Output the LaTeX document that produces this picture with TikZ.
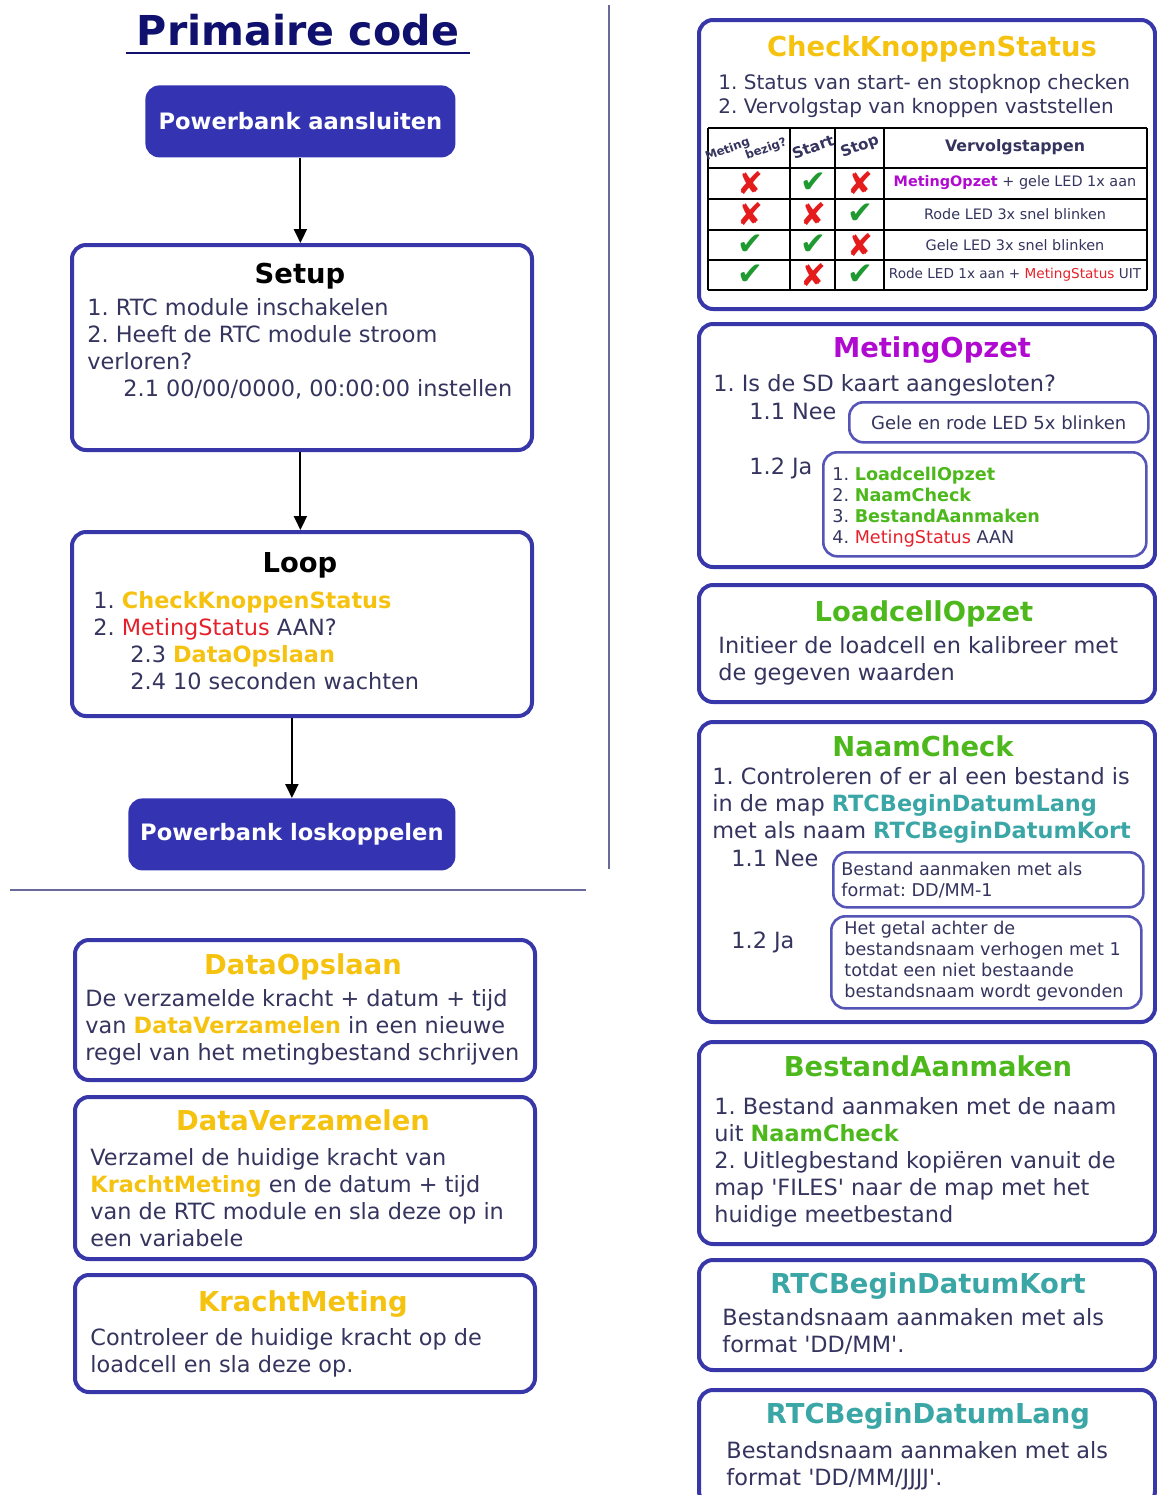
\documentclass[tikz,border=0pt]{standalone}
\usepackage{fontspec}
\setmainfont{DejaVu Sans}
\usetikzlibrary{arrows.meta}
\definecolor{randblauw}{HTML}{3737AA}
\definecolor{vulblauw}{HTML}{3434B2}
\definecolor{tekst}{HTML}{34345E}
\definecolor{kopblauw}{HTML}{10106E}
\definecolor{goud}{HTML}{F5C20F}
\definecolor{rood}{HTML}{E5202A}
\definecolor{paars}{HTML}{B00AD0}
\definecolor{groen}{HTML}{4CB81C}
\definecolor{blauwgroen}{HTML}{3BA6A6}
\definecolor{scheiding}{HTML}{6A6A98}
\definecolor{vinkgroen}{HTML}{1E9A30}
\definecolor{kruisrood}{HTML}{E41C1C}
\newcommand{\fgoud}[1]{\textcolor{goud}{\textbf{#1}}}
\newcommand{\fgroen}[1]{\textcolor{groen}{\textbf{#1}}}
\newcommand{\fpaars}[1]{\textcolor{paars}{\textbf{#1}}}
\newcommand{\fteal}[1]{\textcolor{blauwgroen}{\textbf{#1}}}
\newcommand{\frood}[1]{\textcolor{rood}{#1}}
\newcommand{\vink}{\textcolor{vinkgroen}{✔}}
\newcommand{\kruis}{\textcolor{kruisrood}{✘}}
\newcommand{\q}{\textquotesingle}

\begin{document}
\frenchspacing
\begin{tikzpicture}[
    x=0.5pt, y=-0.5pt,
    every node/.style={text=tekst},
    codebox/.style 2 args={draw=randblauw, line width=2pt, rounded corners=7pt,
                           anchor=north west, inner sep=0pt,
                           minimum width=#1*0.5pt, minimum height=#2*0.5pt},
    subbox/.style 2 args={draw=randblauw!85!white, line width=1.3pt, rounded corners=7pt,
                          anchor=north west, inner sep=0pt,
                          minimum width=#1*0.5pt, minimum height=#2*0.5pt},
    powerbox/.style 2 args={fill=vulblauw, rounded corners=7pt, anchor=north west,
                            inner sep=0pt, text=white,
                            minimum width=#1*0.5pt, minimum height=#2*0.5pt,
                            font=\fontsize{11.3}{13}\selectfont\bfseries},
    heading/.style={anchor=base, font=\fontsize{13.7}{16}\selectfont\bfseries},
    body/.style={anchor=north west, align=left, inner sep=0pt,
                 font=\fontsize{11.2}{13.5}\selectfont},
    smallbody/.style={anchor=north west, align=left, inner sep=0pt,
                      font=\fontsize{10}{12}\selectfont},
    tinybody/.style={anchor=north west, align=left, inner sep=0pt,
                     font=\fontsize{8.8}{10.5}\selectfont},
    stap/.style={anchor=base west, inner sep=0pt, font=\fontsize{11.2}{13.5}\selectfont},
    kolomkop/.style={rotate=20, inner sep=0pt, font=\fontsize{7.6}{9}\selectfont\bfseries},
    teken/.style={inner sep=0pt, font=\fontsize{15.5}{16}\selectfont},
    celtekst/.style={inner sep=0pt, font=\fontsize{7.2}{9}\selectfont},
    rooster/.style={draw=black, line width=1.1pt},
    sep/.style={draw=scheiding, line width=1pt},
    arr/.style={-{Triangle[length=7pt,width=6.5pt]}, line width=1pt, draw=black}
  ]
  \useasboundingbox (0,0) rectangle (1157,1495);

  % Links: hoofdprogramma
  \node[font=\fontsize{20.6}{24}\selectfont\bfseries, text=kopblauw, anchor=base,
        inner xsep=5pt, inner ysep=3.5pt] (titel) at (298,45) {Primaire code};
  \draw[kopblauw, line width=1.3pt] (titel.south west) -- (titel.south east);

  \node[powerbox={310}{72}] (aansl) at (145,85) {Powerbank aansluiten};

  \node[codebox={460}{205}] (setup) at (70,243) {};
  \node[heading, text=black] (setupkop) at (300,283) {Setup};
  \node[body] (setuptxt) at (87,298)
    {1. RTC module inschakelen\\2. Heeft de RTC module stroom\\verloren?\\
     \hspace*{18pt}2.1 00/00/0000, 00:00:00 instellen};

  \node[codebox={460}{184}] (loop) at (70,530) {};
  \node[heading, text=black] (loopkop) at (300,572) {Loop};
  \node[body] (looptxt) at (93,591)
    {1. \fgoud{CheckKnoppenStatus}\\2. \frood{MetingStatus} AAN?\\
     \hspace*{18.5pt}2.3 \fgoud{DataOpslaan}\\\hspace*{18.5pt}2.4 10 seconden wachten};

  \node[powerbox={327}{72}] (loskop) at (128,798) {Powerbank loskoppelen};

  \draw[arr] (aansl.south) -- (aansl.south |- setup.north);
  \draw[arr] (setup.south -| aansl.south) -- (aansl.south |- loop.north);
  \draw[arr] (loop.south -| loskop.north) -- (loskop.north);

  % Scheidingslijnen
  \draw[sep] (609,5) -- (609,869);
  \draw[sep] (10,890) -- (586,890);

  % Links onder: functies
  \node[codebox={460}{140}] (dataops) at (73,938) {};
  \node[heading, text=goud] (dataopskop) at (303,974) {DataOpslaan};
  \node[body] (dataopstxt) at (85,989)
    {De verzamelde kracht + datum + tijd\\van \fgoud{DataVerzamelen} in een nieuwe\\regel van het metingbestand schrijven};

  \node[codebox={460}{162}] (dataverz) at (73,1095) {};
  \node[heading, text=goud] (dataverzkop) at (303,1130) {DataVerzamelen};
  \node[body] (dataverztxt) at (90,1148)
    {Verzamel de huidige kracht van\\\fgoud{KrachtMeting} en de datum + tijd\\van de RTC module en sla deze op in\\een variabele};

  \node[codebox={460}{117}] (kracht) at (73,1273) {};
  \node[heading, text=goud] (krachtkop) at (303,1311) {KrachtMeting};
  \node[body] (krachttxt) at (90,1328)
    {Controleer de huidige kracht op de\\loadcell en sla deze op.};

  % Rechts: CheckKnoppenStatus met tabel
  \node[codebox={456}{289}] (check) at (697,18) {};
  \node[heading, text=goud] (checkkop) at (932,56) {CheckKnoppenStatus};
  \node[smallbody] (checktxt) at (718,74)
    {1. Status van start- en stopknop checken\\2. Vervolgstap van knoppen vaststellen};
  \foreach \x in {708,790,835,884,1147} \draw[rooster] (\x,128) -- (\x,290);
  \foreach \y in {128,168,199,230,260,290} \draw[rooster] (708,\y) -- (1147,\y);
  \node[kolomkop, align=left, font=\fontsize{5.9}{6.4}\selectfont\bfseries] (hmeting) at (746,150)
    {Meting\\\hspace*{19pt}bezig?};
  \node[kolomkop] (hstart) at (813,147) {Start};
  \node[kolomkop] (hstop) at (860,147) {Stop};
  \node[inner sep=0pt, font=\fontsize{7.9}{9}\selectfont\bfseries] (hvervolg) at (1015,147) {Vervolgstappen};
  \foreach \y/\a/\b/\c/\txt [count=\rij] in {
      183/\kruis/\vink/\kruis/{\fpaars{MetingOpzet} + gele LED 1x aan},
      214/\kruis/\kruis/\vink/{Rode LED 3x snel blinken},
      245/\vink/\vink/\kruis/{Gele LED 3x snel blinken},
      275/\vink/\kruis/\vink/{\fontsize{6.8}{8}\selectfont Rode LED 1x aan + \frood{MetingStatus} UIT}} {
    \node[teken] (meting\rij) at (750,\y) {\a};
    \node[teken] (start\rij) at (813,\y) {\b};
    \node[teken] (stop\rij) at (860,\y) {\c};
    \node[celtekst] (vervolg\rij) at (1015,\y) {\txt};
  }

  % MetingOpzet
  \node[codebox={456}{243}] (opzet) at (697,322) {};
  \node[heading, text=paars] (opzetkop) at (932,357) {MetingOpzet};
  \node[body] (opzettxt) at (713,374) {1. Is de SD kaart aangesloten?};
  \node[stap] (opzetnee) at (749,419) {1.1 Nee};
  \node[subbox={299}{40}, font=\fontsize{9}{11}\selectfont] (opzetled) at (848,401)
    {Gele en rode LED 5x blinken};
  \node[stap] (opzetja) at (749,474) {1.2 Ja};
  \node[subbox={323}{104}] (opzetlijst) at (822,451) {};
  \node[tinybody] (opzetlijsttxt) at (832,467)
    {1. \fgroen{LoadcellOpzet}\\2. \fgroen{NaamCheck}\\3. \fgroen{BestandAanmaken}\\4. \frood{MetingStatus} AAN};

  % LoadcellOpzet
  \node[codebox={456}{117}] (loadcell) at (697,583) {};
  \node[heading, text=groen] (loadcellkop) at (924,621) {LoadcellOpzet};
  \node[body] (loadcelltxt) at (718,636)
    {Initieer de loadcell en kalibreer met\\de gegeven waarden};

  % NaamCheck
  \node[codebox={456}{300}] (naam) at (697,720) {};
  \node[heading, text=groen] (naamkop) at (923,756) {NaamCheck};
  \node[body] (naamtxt) at (712,767)
    {1. Controleren of er al een bestand is\\in de map \fteal{RTCBeginDatumLang}\\met als naam \fteal{RTCBeginDatumKort}};
  \node[stap] (naamnee) at (731,866) {1.1 Nee};
  \node[subbox={310}{55}] (naamneebox) at (832,851) {};
  \node[tinybody] (naamneetxt) at (841,862) {Bestand aanmaken met als\\format: DD/MM-1};
  \node[stap] (naamja) at (731,948) {1.2 Ja};
  \node[subbox={310}{92}] (naamjabox) at (830,915) {};
  \node[tinybody] (naamjatxt) at (844,921)
    {Het getal achter de\\bestandsnaam verhogen met 1\\totdat een niet bestaande\\bestandsnaam wordt gevonden};

  % BestandAanmaken
  \node[codebox={456}{202}] (bestand) at (697,1040) {};
  \node[heading, text=groen] (bestandkop) at (928,1076) {BestandAanmaken};
  \node[body] (bestandtxt) at (714,1097)
    {1. Bestand aanmaken met de naam\\uit \fgroen{NaamCheck}\\2. Uitlegbestand kopiëren vanuit de\\map \q FILES\q{} naar de map met het\\huidige meetbestand};

  % RTC datums
  \node[codebox={456}{110}] (kort) at (697,1258) {};
  \node[heading, text=blauwgroen] (kortkop) at (928,1293) {RTCBeginDatumKort};
  \node[body] (korttxt) at (722,1308) {Bestandsnaam aanmaken met als\\format \q DD/MM\q.};

  \node[codebox={456}{115}] (lang) at (697,1388) {};
  \node[heading, text=blauwgroen] (langkop) at (928,1423) {RTCBeginDatumLang};
  \node[body] (langtxt) at (726,1441) {Bestandsnaam aanmaken met als\\format \q DD/MM/JJJJ\q.};
\end{tikzpicture}
\end{document}
